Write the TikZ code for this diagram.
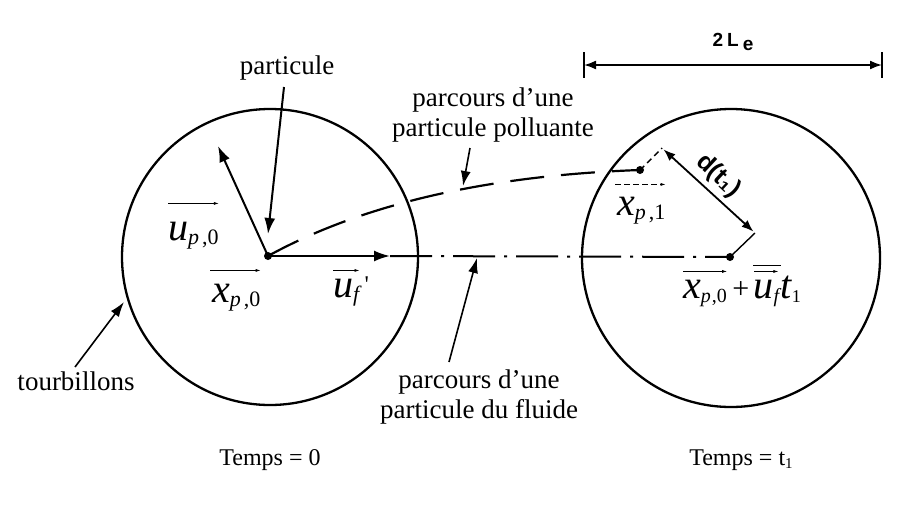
\documentclass[tikz,border=0pt]{standalone}
\usepackage{fontspec}
\setmainfont{Liberation Serif}
\setsansfont{Liberation Sans}
\usetikzlibrary{arrows.meta,calc}
\newcommand\mlet[1]{{\fontsize{40}{40}\selectfont\itshape #1}}
\newcommand\msub[1]{\raisebox{-4pt}{\fontsize{22}{22}\selectfont #1}}
\newcommand\pzero{\itshape p\hspace{3pt}\upshape,0}
\begin{document}
\begin{tikzpicture}[x=1pt,y=-1pt,
  circ/.style={draw,circle,line width=2.3pt,inner sep=0pt,minimum size=#1},
  bigarrow/.style={line width=2pt,-{Latex[length=16pt,width=11pt]}},
  thinarrow/.style={line width=1.6pt,-{Latex[length=15pt,width=10pt]}},
  overarr/.style={line width=0.7pt,-{Latex[length=5pt,width=3pt]}},
  dimarrow/.style={line width=1.8pt,{Latex[length=12pt,width=9pt]}-{Latex[length=12pt,width=9pt]}},
  lbl/.style={font=\fontsize{27}{31}\selectfont,inner sep=0pt,align=center},
  mlab/.style={inner sep=0pt,anchor=base west},
  polpath/.style={line width=2.2pt,dash pattern=on 34pt off 17pt},
  flupath/.style={line width=2pt,dash pattern=on 42pt off 9pt on 3pt off 9pt},
  dotst/.style={circle,fill,inner sep=0pt,minimum size=8pt},
  sanslab/.style={font=\sffamily\bfseries\fontsize{19}{22}\selectfont,inner sep=0pt}]
\useasboundingbox (0,0) rectangle (908,512);
\fill[white] (0,0) rectangle (908,512);

% eddies
\node[circ=296pt] (c1) at (270,257) {};
\node[circ=298pt] (c2) at (731,258) {};

% key points
\node[dotst] (P0) at (268,256) {};
\node[dotst] (P1) at (640,170) {};
\node[dotst] (P2) at (730,257) {};
\coordinate (UP) at (218,146);
\coordinate (UF) at (390,256);
\coordinate (E1) at (662,148);
\coordinate (E2) at (755,233);

% velocity vectors
\draw[bigarrow] (P0.center) -- (UP);
\draw[bigarrow] (P0.center) -- (UF);

% paths
\draw[polpath] (P0.center) .. controls (370,200) and (500,175) .. (P1.center);
\draw[flupath] (UF) -- (P2.center);

% distance d(t1)
\draw[line width=1.4pt,dash pattern=on 6pt off 4pt] (P1.center) -- (E1);
\draw[line width=1.4pt] (P2.center) -- (E2);
\draw[dimarrow,shorten <=2pt,shorten >=2pt] (E1) -- (E2);
\node[font=\sffamily\bfseries\fontsize{25}{27}\selectfont,inner sep=0pt,rotate=-43] (ld) at (718,176) {d(t₁)};

% 2L_e dimension
\coordinate (B1) at (584,65);
\coordinate (B2) at (882,65);
\draw[line width=1.6pt] (584,52) -- (584,78);
\draw[line width=1.6pt] (882,52) -- (882,78);
\draw[dimarrow] (B1) -- (B2);
\node[sanslab] (l2le) at (733,42) {2\hspace{4pt}L\hspace{4pt}\raisebox{-4pt}{e}};

% text labels with arrows
\node[lbl] (lpart) at (287,68) {particule};
\coordinate (Apart) at (284,87);
\draw[bigarrow] (Apart) -- (268,234);

\node[lbl] (ltour) at (76,381) {tourbillons};
\coordinate (Atour) at (75,367);
\draw[thinarrow] (Atour) -- (124,302);

\node[lbl] (lpol) at (493,115) {parcours d’une\\[-1pt]particule polluante};
\coordinate (Apol) at (470,148);
\draw[thinarrow] (Apol) -- (463,186);

\node[lbl] (lflu) at (479,397) {parcours d’une\\[-1pt]particule du fluide};
\coordinate (Aflu) at (449,362);
\draw[thinarrow] (Aflu) -- (477,258);

\node[lbl,font=\fontsize{24}{28}\selectfont] (lt0) at (270,460) {Temps = 0};
\node[lbl,font=\fontsize{24}{28}\selectfont] (lt1) at (741,460) {Temps = t\raisebox{-3pt}{\fontsize{15}{15}\selectfont 1}};

% vector labels
\node[mlab] (lup) at (168,240) {\mlet{u}\msub{\pzero}};
\draw[overarr] ($(lup.north west)+(0,-18)$) -- ($(lup.north east)+(0,-18)$);

\node[mlab] (lxp) at (212,302) {\mlet{x}\msub{\pzero}};
\draw[overarr] ($(lxp.north west)+(-2,-13)$) -- ($(lxp.north east)+(0,-13)$);

\node[mlab] (luf) at (333,297) {\mlet{u}\msub{\itshape f}};
\node[inner sep=0pt,anchor=base west,font=\fontsize{24}{24}\selectfont] (lufp) at ($(luf.base east)+(5,-5)$) {\textquotesingle};
\draw[overarr] ($(luf.north west)+(0,-8)$) -- ($(luf.north east)+(0,-8)$);

\node[mlab] (lx1) at (617,215) {\mlet{x}\msub{\itshape p\hspace{3pt}\upshape,1}};
\draw[overarr,dash pattern=on 6pt off 3pt] ($(lx1.north west)+(-2,-12)$) -- ($(lx1.north east)+(0,-12)$);

\node[mlab] (rx) at (683,298) {\mlet{x}\raisebox{-4pt}{\fontsize{20}{20}\selectfont\itshape p\hspace{1pt}\upshape,0}};
\node[mlab,font=\fontsize{30}{30}\selectfont] (rplus) at ($(rx.base east)+(5,0)$) {+};
\node[mlab] (ru) at ($(rplus.base east)+(4,0)$) {\mlet{u}\raisebox{-4pt}{\fontsize{20}{20}\selectfont\itshape f}};
\node[mlab] (rt) at ($(ru.base east)+(1,0)$) {\mlet{t}\raisebox{-4pt}{\fontsize{18}{18}\selectfont 1}};
\draw[overarr] ($(rx.north west)+(0,-8)$) -- ($(rx.north east)+(0,-8)$);
\draw[line width=1.4pt] ($(ru.north west)+(0,-14)$) -- ($(ru.north east)+(2,-14)$);
\draw[overarr] ($(ru.north west)+(1,-8)$) -- ($(ru.north east)+(-1,-8)$);
\end{tikzpicture}
\end{document}
